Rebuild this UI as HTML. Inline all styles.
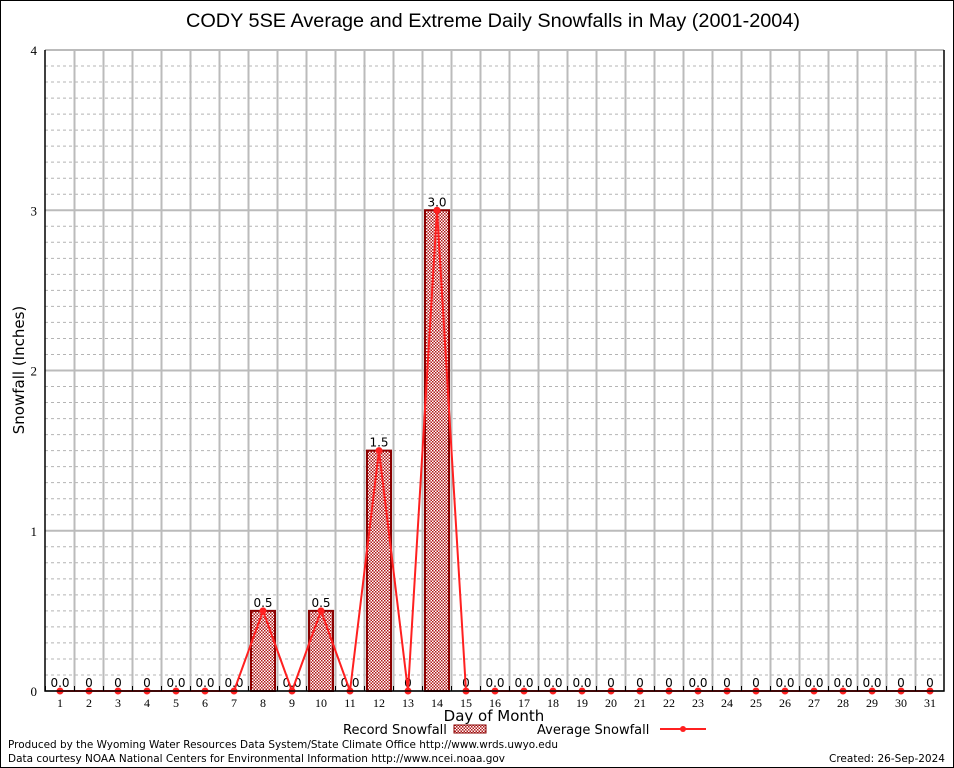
<!DOCTYPE html>
<html><head><meta charset="utf-8"><style>
body{margin:0;background:#fff;}
svg{display:block;font-family:"DejaVu Sans","Liberation Sans",sans-serif;}
</style></head><body>
<svg id="chart" width="954" height="768" viewBox="0 0 954 768">
<defs>
<pattern id="chk" width="3" height="3" patternUnits="userSpaceOnUse">
<rect width="3" height="3" fill="#fff"/><rect width="1.5" height="1.5" fill="#b01818"/><rect x="1.5" y="1.5" width="1.5" height="1.5" fill="#b01818"/>
</pattern>
</defs>
<rect x="0.5" y="0.5" width="953" height="767" fill="#fff" stroke="#000"/>
<text x="493" y="27" font-size="19" text-anchor="middle" textLength="614" lengthAdjust="spacingAndGlyphs" font-family="Liberation Sans, sans-serif">CODY 5SE Average and Extreme Daily Snowfalls in May (2001-2004)</text>
<g id="grid"></g>
<g id="bars"></g>
<g id="line"></g>
<g id="axes"></g>
<text x="24" y="370" font-size="15" text-anchor="middle" transform="rotate(-90 24 370)">Snowfall (Inches)</text>
<text x="494" y="721" font-size="15" text-anchor="middle">Day of Month</text>
<g>
<text x="343" y="734" font-size="13">Record Snowfall</text>
<rect x="454" y="725" width="32" height="8" fill="url(#chk)" stroke="#8b0000"/>
<text x="537" y="734" font-size="13">Average Snowfall</text>
<line x1="660" y1="729" x2="706" y2="729" stroke="#ff2020" stroke-width="2"/>
<circle cx="683" cy="729" r="3" fill="#ff2020"/>
</g>
<text x="8" y="748" font-size="11" textLength="550" lengthAdjust="spacingAndGlyphs">Produced by the Wyoming Water Resources Data System/State Climate Office http://www.wrds.uwyo.edu</text>
<text x="8" y="762" font-size="11" textLength="497" lengthAdjust="spacingAndGlyphs">Data courtesy NOAA National Centers for Environmental Information http://www.ncei.noaa.gov</text>
<text x="945" y="762" font-size="11" text-anchor="end" textLength="116" lengthAdjust="spacingAndGlyphs">Created:  26-Sep-2024</text>
</svg>
<script>
const days=[1,2,3,4,5,6,7,8,9,10,11,12,13,14,15,16,17,18,19,20,21,22,23,24,25,26,27,28,29,30,31];
const recordVals=[0,0,0,0,0,0,0,0.5,0,0.5,0,1.5,0,3.0,0,0,0,0,0,0,0,0,0,0,0,0,0,0,0,0,0];
const avgVals=[0,0,0,0,0,0,0,0.5,0,0.5,0,1.5,0,3.0,0,0,0,0,0,0,0,0,0,0,0,0,0,0,0,0,0];
const labels=["0.0","0","0","0","0.0","0.0","0.0","0.5","0.0","0.5","0.0","1.5","0","3.0","0","0.0","0.0","0.0","0.0","0","0","0","0.0","0","0","0.0","0.0","0.0","0.0","0","0"];
const yTicks=[0,1,2,3,4];
const NS="http://www.w3.org/2000/svg";
const L=45,R=944,T=50,B=691,yMax=4;
const x=d=>60+(d-1)*29;
const y=v=>B-(v/yMax)*(B-T);
function mk(t,a,p){const e=document.createElementNS(NS,t);for(const k in a)e.setAttribute(k,a[k]);p.appendChild(e);return e;}
const grid=document.getElementById('grid'),bars=document.getElementById('bars'),line=document.getElementById('line'),axes=document.getElementById('axes');
for(let i=1;i<40;i++){const v=i*0.1;if(i%10===0)continue;const g=mk('line',{x1:L,x2:R,y1:y(v),y2:y(v),stroke:'#b4b4b4','stroke-dasharray':'3,3','stroke-width':1},grid);

}
yTicks.forEach(v=>{const g=mk('line',{x1:L,x2:R,y1:y(v),y2:y(v),stroke:'#bbb','stroke-width':2},grid);


const t=mk('text',{x:L-8,y:y(v)+5,'font-size':13,'text-anchor':'end','font-family':'Liberation Serif, serif'},axes);t.textContent=v;

});
for(let d=1;d<=31;d++){const xx=x(d)+14.5;if(d<31){const g=mk('line',{x1:xx,x2:xx,y1:T,y2:B,stroke:'#bbb','stroke-width':2},grid);

}
mk('line',{x1:x(d)-14.5,x2:x(d)-14.5,y1:B,y2:B-5,stroke:'#000'},axes);}
days.forEach((d,i)=>{const v=recordVals[i];if(v>0){const b=mk('rect',{x:x(d)-12,y:y(v),width:24,height:B-y(v),fill:'url(#chk)',stroke:'#8b0000','stroke-width':2},bars);

}
const t=mk('text',{x:x(d),y:y(v)-4,'font-size':12,'text-anchor':'middle'},bars);t.textContent=labels[i];


const xl=mk('text',{x:x(d),y:B+16,'font-size':12,'text-anchor':'middle','font-family':'Liberation Serif, serif'},axes);xl.textContent=d;

});
const pl=mk('polyline',{points:days.map((d,i)=>x(d)+','+y(avgVals[i])).join(' '),fill:'none',stroke:'#ff2020','stroke-width':2},line);


days.forEach((d,i)=>{const c=mk('circle',{cx:x(d),cy:y(avgVals[i]),r:3.5,fill:'#ff2020'},line);

});
const ax=mk('path',{d:`M${L},${T} L${L},${B} L${R},${B} L${R},${T}`,fill:'none',stroke:'#000','stroke-width':1.5},axes);


</script>
</body></html>
